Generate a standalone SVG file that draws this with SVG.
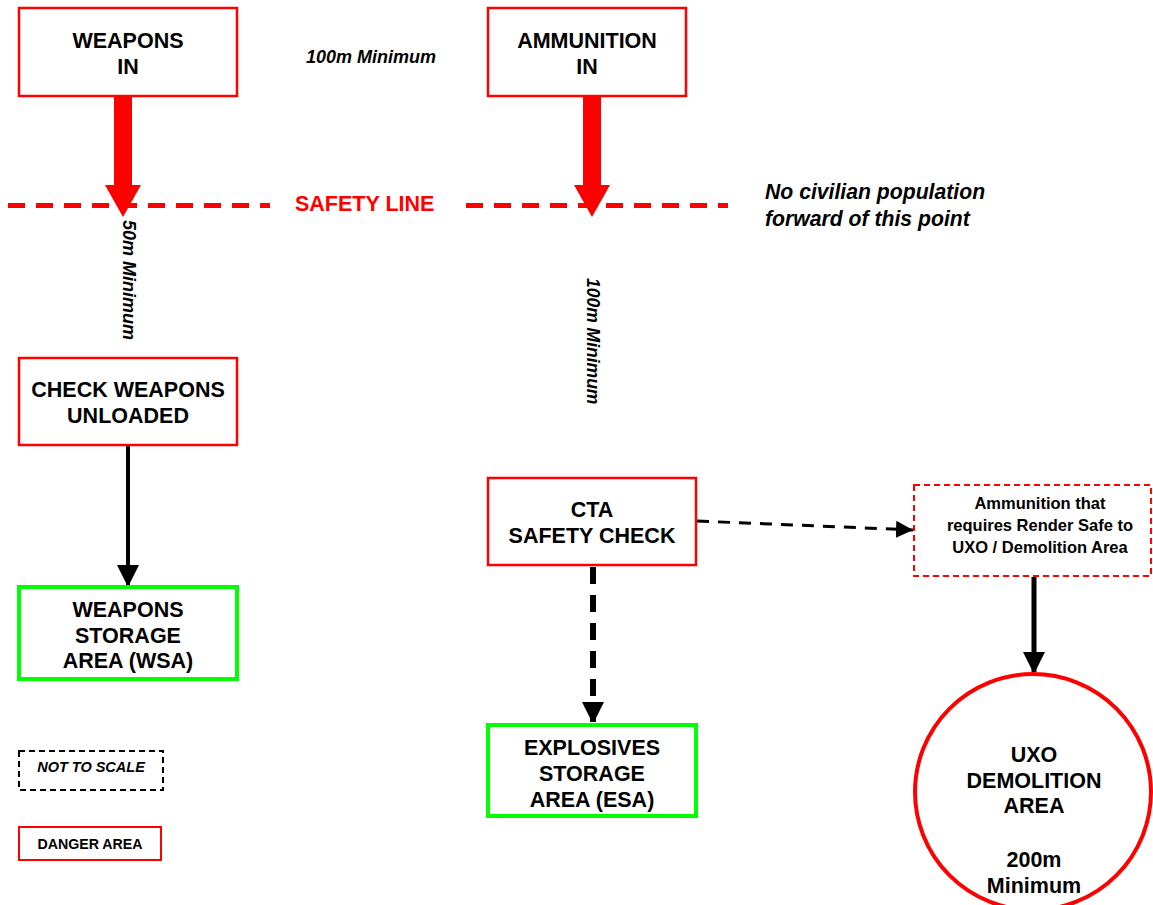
<svg xmlns="http://www.w3.org/2000/svg" width="1153" height="905" viewBox="0 0 1153 905">
<style>
.bx{fill:#fff;stroke:#ff0000;stroke-width:2.5}
.gb{fill:#fff;stroke:#00ff00;stroke-width:4}
.t{font-family:"Liberation Sans",Arial,sans-serif;font-weight:bold;font-size:21.5px;fill:#000;text-anchor:middle}
.ti{font-family:"Liberation Sans",Arial,sans-serif;font-weight:bold;font-style:italic;fill:#000}
.red{fill:#ff0000}
</style>
<defs>
<marker id="ah" markerWidth="20" markerHeight="22" refX="20" refY="11" orient="auto" markerUnits="userSpaceOnUse">
<path d="M0,0 L22,11 L0,22 Z" fill="#000"/>
</marker>
<marker id="ahs" markerWidth="17" markerHeight="17" refX="17" refY="8.5" orient="auto" markerUnits="userSpaceOnUse">
<path d="M0,0 L17,8.5 L0,17 Z" fill="#000"/>
</marker>
</defs>
<rect width="1153" height="905" fill="#fff"/>

<g id="connectors">
<polygon class="red" points="114,96 132,96 132,185 141,185 123,217 105,185 114,185"/>
<polygon class="red" points="583,96 601,96 601,185 610,185 592,217 574,185 583,185"/>
<line x1="8" y1="205.5" x2="270" y2="205.5" stroke="#ff0000" stroke-width="5" stroke-dasharray="17,11"/>
<line x1="466" y1="205.5" x2="728" y2="205.5" stroke="#ff0000" stroke-width="5" stroke-dasharray="17,11"/>
<line x1="128" y1="446" x2="128" y2="585" stroke="#000" stroke-width="4" marker-end="url(#ah)"/>
<line x1="593" y1="567" x2="593" y2="722" stroke="#000" stroke-width="6" stroke-dasharray="17,11" marker-end="url(#ah)"/>
<line x1="697" y1="521" x2="913" y2="530" stroke="#000" stroke-width="3" stroke-dasharray="12,9" marker-end="url(#ahs)"/>
<line x1="1034" y1="577" x2="1034" y2="672" stroke="#000" stroke-width="5" marker-end="url(#ah)"/>
</g>

<g id="weapons-in">
<rect class="bx" x="19" y="8" width="218" height="88"/>
<text class="t" x="128" y="48">WEAPONS</text>
<text class="t" x="128" y="74">IN</text>
</g>
<g id="ammunition-in">
<rect class="bx" x="488" y="8" width="198" height="88"/>
<text class="t" x="587" y="48">AMMUNITION</text>
<text class="t" x="587" y="74">IN</text>
</g>
<g id="label-100m-top">
<text class="ti" x="306" y="63" font-size="18">100m Minimum</text>
</g>
<g id="safety-line-label">
<text x="295" y="211" font-family="Liberation Sans,Arial,sans-serif" font-weight="bold" font-size="21.5" fill="#ff0000">SAFETY LINE</text>
</g>
<g id="civilian-note">
<text class="ti" x="765" y="199" font-size="21.2">No civilian population</text>
<text class="ti" x="765" y="226" font-size="21.2">forward of this point</text>
</g>
<g id="label-50m">
<text class="ti" font-size="18" transform="translate(123,220) rotate(90)">50m Minimum</text>
</g>
<g id="label-100m-vert">
<text class="ti" font-size="17.5" transform="translate(587,278) rotate(90)">100m Minimum</text>
</g>
<g id="check-weapons">
<rect class="bx" x="19" y="358" width="218" height="87"/>
<text class="t" x="128" y="397">CHECK WEAPONS</text>
<text class="t" x="128" y="423">UNLOADED</text>
</g>
<g id="wsa">
<rect class="gb" x="19" y="587" width="218" height="92"/>
<text class="t" x="128" y="617">WEAPONS</text>
<text class="t" x="128" y="643">STORAGE</text>
<text class="t" x="128" y="668">AREA (WSA)</text>
</g>
<g id="cta">
<rect class="bx" x="488" y="478" width="208" height="87"/>
<text class="t" x="592" y="517">CTA</text>
<text class="t" x="592" y="543">SAFETY CHECK</text>
</g>
<g id="esa">
<rect class="gb" x="488" y="725" width="208" height="91"/>
<text class="t" x="592" y="755">EXPLOSIVES</text>
<text class="t" x="592" y="781">STORAGE</text>
<text class="t" x="592" y="807">AREA (ESA)</text>
</g>
<g id="render-safe">
<rect x="914" y="485" width="237" height="91" fill="#fff" stroke="#ff0000" stroke-width="2" stroke-dasharray="6,4"/>
<text class="t" x="1040" y="509" style="font-size:16.5px">Ammunition that</text>
<text class="t" x="1040" y="531" style="font-size:16.5px">requires Render Safe to</text>
<text class="t" x="1040" y="553" style="font-size:16.5px">UXO / Demolition Area</text>
</g>
<g id="uxo-demolition">
<circle cx="1033" cy="792" r="118" fill="#fff" stroke="#ff0000" stroke-width="4"/>
<text class="t" x="1034" y="762">UXO</text>
<text class="t" x="1034" y="788">DEMOLITION</text>
<text class="t" x="1034" y="813">AREA</text>
<text class="t" x="1034" y="867">200m</text>
<text class="t" x="1034" y="893">Minimum</text>
</g>
<g id="not-to-scale">
<rect x="19" y="751" width="144" height="39" fill="#fff" stroke="#000" stroke-width="2" stroke-dasharray="6,4"/>
<text class="ti" x="91" y="772" font-size="14.5" text-anchor="middle">NOT TO SCALE</text>
</g>
<g id="danger-area">
<rect x="19" y="827" width="142" height="33" fill="#fff" stroke="#ff0000" stroke-width="2"/>
<text class="t" x="90" y="849" style="font-size:14.2px">DANGER AREA</text>
</g>
</svg>
